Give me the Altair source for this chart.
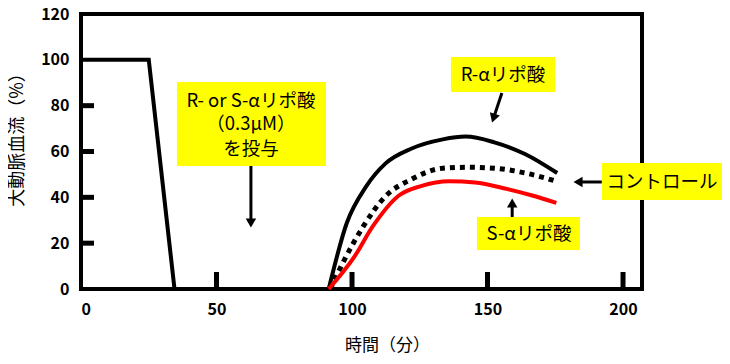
import altair as alt
import pandas as pd

FONT = "Noto Sans CJK JP"

# Baseline (pre-treatment) trace
base_x = [0, 25, 34.5, 91.4]
base_y = [100, 100, 0, 0]

# R-alpha lipoic acid (black solid)
r_x = [91.4, 98.1, 105.3, 112.3, 121.8, 133.5, 141.9, 152.5, 164.0, 175.7]
r_y = [0, 28.9, 44.9, 54.7, 61.2, 65.3, 66.5, 64.0, 58.8, 50.6]

# Control (black dotted)
c_x = [92.0, 97.0, 104.2, 112.3, 121.8, 133.5, 143.0, 152.5, 164.0, 175.4]
c_y = [0, 12.3, 27.4, 40.4, 47.8, 52.7, 53.1, 52.7, 50.6, 47.0]

# S-alpha lipoic acid (red)
s_x = [91.4, 100.7, 107.7, 117.3, 125.4, 135.9, 145.4, 157.0, 166.5, 175.4]
s_y = [0, 13.8, 27.4, 40.8, 44.9, 47.0, 46.5, 43.7, 40.8, 37.6]

x_ticks = [0, 50, 100, 150, 200]
y_ticks = [0, 20, 40, 60, 80, 100, 120]
x_inner_ticks = [50, 100, 150, 200]
y_inner_ticks = [20, 40, 60, 80]

# annotation boxes
box_x1 = [35.4, 136.5, 192.2, 146.1]
box_x2 = [90.4, 174.9, 236.5, 184.1]
box_y1 = [90.3, 101.2, 55.0, 31.4]
box_y2 = [53.7, 86.0, 38.8, 17.0]

# annotation text lines
label_text = ["R- or S-αリポ酸", "（0.3μM）", "を投与", "R-αリポ酸", "コントロール", "S-αリポ酸"]
label_x = [62.7, 62.7, 62.7, 155.7, 214.4, 165.3]
label_y = [82.0, 72.0, 61.1, 93.4, 46.7, 24.0]

# arrows
arr_x1 = [62.7, 155.3, 192.2, 159.1]
arr_y1 = [53.7, 85.5, 46.7, 31.4]
arr_x2 = [62.7, 152.2, 183.4, 159.1]
arr_y2 = [28.8, 74.5, 46.7, 37.5]
arr_angle = [180, 198, 270, 0]

xs = alt.Scale(domain=[0, 207], nice=False, zero=False)
ys = alt.Scale(domain=[0, 120], nice=False)

base_df = pd.DataFrame({"x": base_x, "y": base_y})
r_df = pd.DataFrame({"x": r_x, "y": r_y})
c_df = pd.DataFrame({"x": c_x, "y": c_y})
s_df = pd.DataFrame({"x": s_x, "y": s_y})

xaxis = alt.Axis(values=x_ticks, title="時間（分）", grid=False, ticks=False, domain=False,
                 labelFont=FONT, labelFontWeight="bold", labelFontSize=16, labelColor="black",
                 labelPadding=12, titleFont=FONT, titleFontSize=17, titleFontWeight="normal",
                 titleColor="black", titleX=306, titleY=56, titleBaseline="middle")
yaxis = alt.Axis(values=y_ticks, title="大動脈血流（%）", grid=False, ticks=False, domain=False,
                 labelFont=FONT, labelFontWeight="bold", labelFontSize=16, labelColor="black",
                 labelPadding=12, titleFont=FONT, titleFontSize=18, titleFontWeight="normal",
                 titleColor="black", titleX=-64, titleY=121, titleBaseline="middle")

base = alt.Chart(base_df).mark_line(color="black", strokeWidth=4, interpolate="linear").encode(
    x=alt.X("x:Q", scale=xs, axis=xaxis), y=alt.Y("y:Q", scale=ys, axis=yaxis))

r_line = alt.Chart(r_df).mark_line(color="black", strokeWidth=4, interpolate="monotone").encode(
    x="x:Q", y="y:Q")
c_line = alt.Chart(c_df).mark_line(color="black", strokeWidth=5, strokeDash=[5, 5],
                                    interpolate="monotone").encode(x="x:Q", y="y:Q")
s_line = alt.Chart(s_df).mark_line(color="#ff0000", strokeWidth=4, interpolate="monotone").encode(
    x="x:Q", y="y:Q")

xt = alt.Chart(pd.DataFrame({"x": x_inner_ticks})).mark_rule(color="black", strokeWidth=5).encode(
    x="x:Q", y=alt.value(275), y2=alt.value(258))
yt = alt.Chart(pd.DataFrame({"y": y_inner_ticks})).mark_rule(color="black", strokeWidth=5).encode(
    y="y:Q", x=alt.value(0), x2=alt.value(13))

box_df = pd.DataFrame({"x": box_x1, "x2": box_x2, "y": box_y1, "y2": box_y2})
lab_df = pd.DataFrame({"x": label_x, "y": label_y, "t": label_text})
arr_df = pd.DataFrame({"x": arr_x1, "y": arr_y1, "x2": arr_x2, "y2": arr_y2, "a": arr_angle})

boxes = alt.Chart(box_df).mark_rect(color="#ffff00").encode(
    x="x:Q", x2="x2", y="y:Q", y2="y2")
texts = alt.Chart(lab_df).mark_text(font=FONT, fontSize=18.5, color="black",
                                    baseline="middle", align="center").encode(
    x="x:Q", y="y:Q", text="t:N")
shafts = alt.Chart(arr_df).mark_rule(color="black", strokeWidth=3).encode(
    x="x:Q", y="y:Q", x2="x2", y2="y2")
heads = alt.Chart(arr_df).mark_point(shape="triangle-up", filled=True, size=110, color="black",
                                     opacity=1).encode(
    x=alt.X("x2:Q"), y=alt.Y("y2:Q"), angle=alt.Angle("a:Q", scale=None))

chart = alt.layer(base, r_line, c_line, s_line, xt, yt, shafts, heads, boxes, texts).properties(
    width=561, height=275,
    padding={"left": 73, "top": 6, "right": 80, "bottom": 65},
    autosize=alt.AutoSizeParams(type="none"),
).configure_view(stroke="black", strokeWidth=4)

chart.save("out.html", embed_options={"renderer": "svg", "actions": False})
